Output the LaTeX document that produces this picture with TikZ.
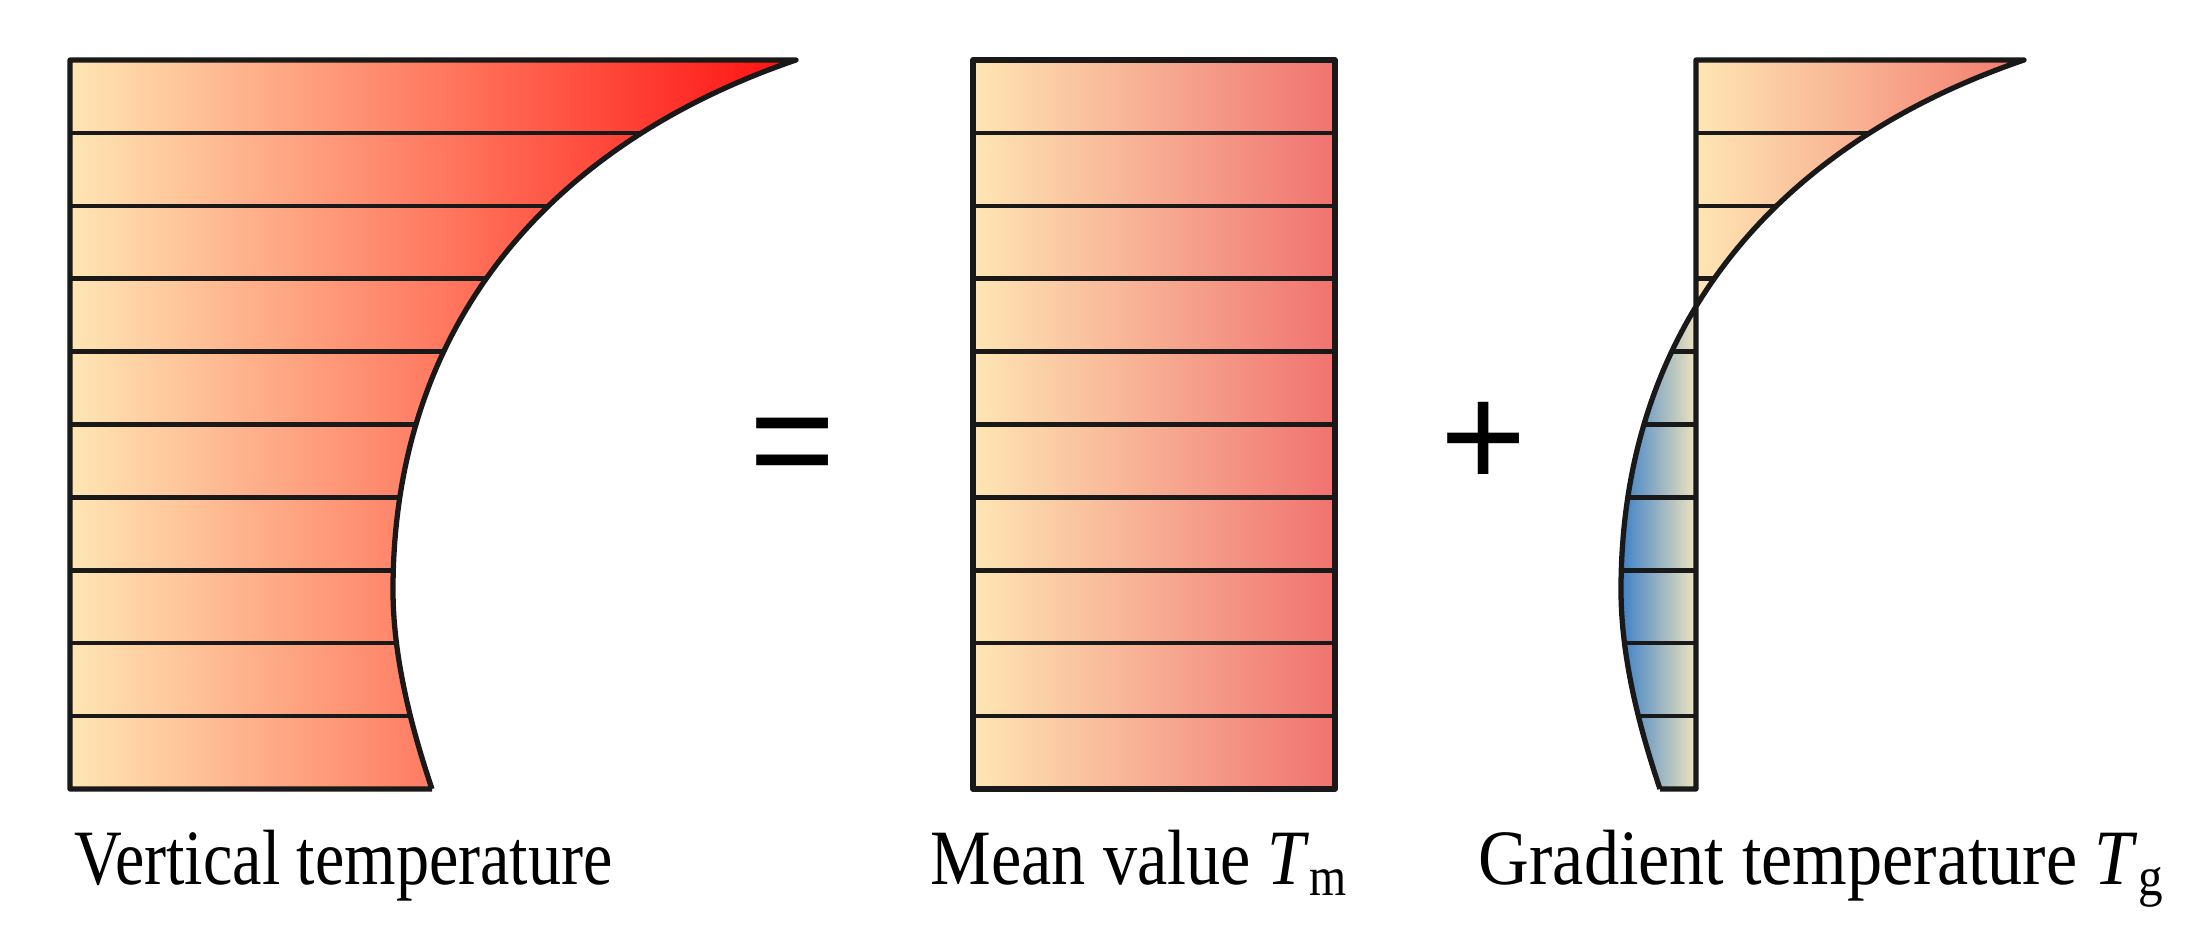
\documentclass[tikz,border=0pt]{standalone}
\usepackage{fontspec}
\setmainfont{Liberation Serif}[FakeStretch=0.87]
\newfontfamily\signfont{Liberation Sans}

\definecolor{cream}{RGB}{254,230,180}
\definecolor{hotred}{RGB}{255,15,15}
\definecolor{meanred}{RGB}{240,114,112}
\definecolor{tipred}{RGB}{242,122,110}
\definecolor{coolblue}{RGB}{55,125,200}
\definecolor{paleend}{RGB}{238,228,190}

\begin{document}
\begin{tikzpicture}[
    prof/.style={draw=black!90, line width=1.5pt, line join=round},
    band/.style={draw=black!90, line width=1.3pt},
    tcurve/.style={insert path={.. controls (5.50,8.06) and (3.93,6.25)
      .. (3.93,3.60) .. controls (3.93,2.90) and (4.13,2.174) .. (4.32,1.61)}},
    caption/.style={anchor=base west, inner sep=0pt,
      font=\fontsize{22.3}{26}\selectfont},
    sign/.style={anchor=base, inner sep=0pt,
      font=\signfont\fontsize{42}{42}\selectfont}]
  \useasboundingbox (0,0) rectangle (21.93,9.50);

  \begin{scope}
    \clip (0.70,8.90) -- (7.96,8.90) [tcurve] -- (0.70,1.61) -- cycle;
    \shade[left color=cream, right color=hotred] (0.70,1.5) rectangle (7.96,9.0);
    \foreach \i in {1,...,9}
      \draw[band] (0.70,{8.90-0.729*\i}) -- (8.0,{8.90-0.729*\i});
  \end{scope}
  \draw[prof] (4.32,1.61) -- (0.70,1.61) -- (0.70,8.90) -- (7.96,8.90) [tcurve];

  \shade[left color=cream, right color=meanred] (9.73,1.61) rectangle (13.35,8.90);
  \foreach \i in {1,...,9}
    \draw[band] (9.73,{8.90-0.729*\i}) -- (13.35,{8.90-0.729*\i});
  \draw[prof] (9.73,1.61) rectangle (13.35,8.90);

  \begin{scope}[xshift=12.28cm]
    \begin{scope}
      \clip (4.68,8.90) -- (7.96,8.90) [tcurve] -- (4.68,1.61) -- cycle;
      \shade[left color=cream, right color=tipred] (4.68,1.5) rectangle (7.96,9.0);
      \shade[left color=coolblue, right color=paleend] (3.90,1.5) rectangle (4.68,9.0);
      \foreach \i in {1,...,9}
        \draw[band] (3.80,{8.90-0.729*\i}) -- (8.0,{8.90-0.729*\i});
    \end{scope}
    \draw[prof] (4.32,1.61) -- (4.68,1.61) -- (4.68,8.90) -- (7.96,8.90) [tcurve];
  \end{scope}

  \node[sign] (eq) at (7.93,4.59) {=};
  \node[sign] (plus) at (14.835,4.62) {+};

  \node[caption, xscale=0.97, transform shape] (vt) at (0.74,0.65) {Vertical temperature};
  \node[caption] (mv) at (9.30,0.65) {Mean value \textit{T}\textsubscript{m}};
  \node[caption, xscale=1.03, transform shape] (gt) at (14.78,0.65) {Gradient temperature \textit{T}\textsubscript{g}};
\end{tikzpicture}
\end{document}
